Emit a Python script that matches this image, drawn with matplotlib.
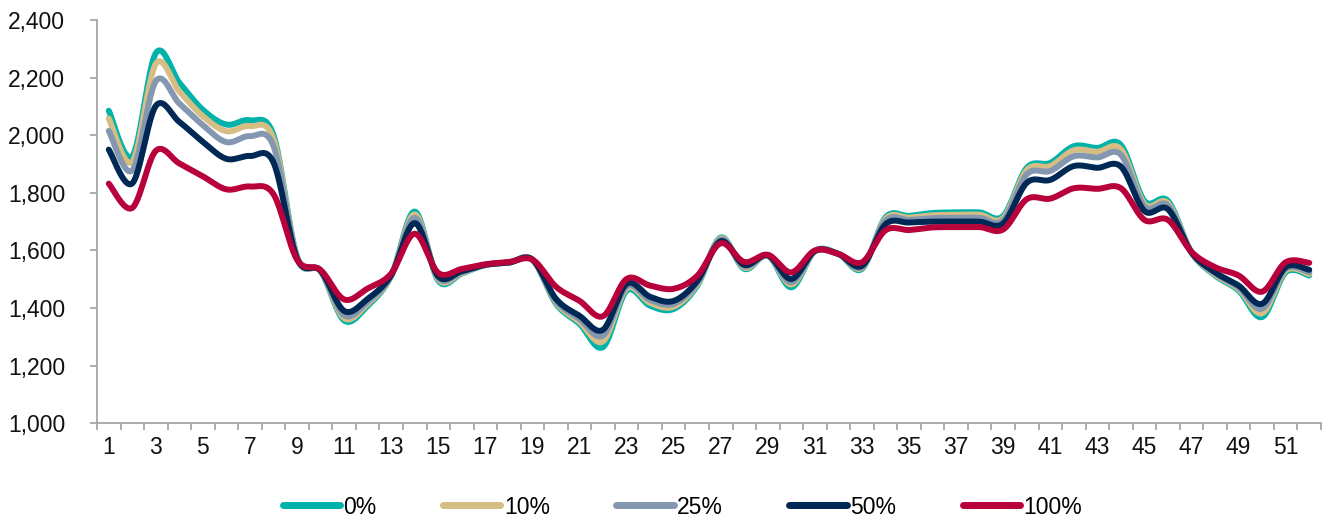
import numpy as np
import matplotlib
matplotlib.use("Agg")
import matplotlib.pyplot as plt
from matplotlib.ticker import FuncFormatter, FixedLocator

plt.rcParams['font.family'] = ['Liberation Sans Narrow', 'Liberation Sans', 'DejaVu Sans']

weeks = list(range(1, 53))
series_names = ["0%", "10%", "25%", "50%", "100%"]
colors = ["#00B2A9", "#D5BD83", "#8497B0", "#002855", "#B8003B"]

s0 = [2085, 1927, 2285, 2182, 2088, 2037, 2052, 2000, 1578, 1528, 1357, 1408, 1512, 1735,
      1495, 1520, 1550, 1558, 1568, 1415, 1345, 1265, 1460, 1408, 1397, 1478, 1645, 1536,
      1582, 1472, 1598, 1588, 1536, 1715, 1720, 1730, 1732, 1732, 1720, 1887, 1904, 1962,
      1956, 1966, 1772, 1772, 1593, 1513, 1461, 1369, 1524, 1513]
s10 = [2058, 1908, 2248, 2152, 2066, 2014, 2032, 1987, 1576, 1528, 1365, 1415, 1512, 1725,
       1500, 1522, 1550, 1558, 1568, 1420, 1352, 1285, 1468, 1418, 1405, 1483, 1642, 1540,
       1582, 1482, 1598, 1588, 1540, 1710, 1714, 1722, 1724, 1724, 1713, 1879, 1893, 1948,
       1943, 1951, 1762, 1764, 1593, 1516, 1466, 1382, 1530, 1518]
s25 = [2015, 1878, 2188, 2110, 2035, 1976, 1997, 1962, 1574, 1529, 1375, 1422, 1513, 1713,
       1505, 1525, 1550, 1558, 1568, 1425, 1362, 1305, 1475, 1428, 1415, 1488, 1638, 1545,
       1582, 1490, 1598, 1588, 1543, 1703, 1706, 1712, 1713, 1713, 1705, 1864, 1876, 1927,
       1923, 1932, 1753, 1756, 1593, 1520, 1472, 1398, 1536, 1524]
s50 = [1950, 1833, 2102, 2046, 1977, 1918, 1928, 1905, 1572, 1530, 1390, 1432, 1515, 1695,
       1510, 1528, 1550, 1558, 1568, 1432, 1373, 1325, 1484, 1439, 1425, 1494, 1632, 1550,
       1583, 1501, 1598, 1588, 1547, 1691, 1697, 1700, 1700, 1700, 1694, 1835, 1845, 1893,
       1887, 1891, 1737, 1743, 1593, 1524, 1478, 1415, 1542, 1533]
s100 = [1832, 1748, 1946, 1902, 1857, 1812, 1822, 1795, 1568, 1532, 1430, 1468, 1520, 1658,
        1522, 1536, 1552, 1560, 1568, 1474, 1425, 1372, 1501, 1478, 1467, 1512, 1625, 1560,
        1585, 1524, 1600, 1588, 1559, 1670, 1671, 1680, 1681, 1681, 1673, 1778, 1780, 1816,
        1814, 1816, 1706, 1706, 1595, 1542, 1513, 1457, 1559, 1557]
all_series = [s0, s10, s25, s50, s100]

y_ticks = [1000, 1200, 1400, 1600, 1800, 2000, 2200, 2400]
x_labels = list(range(1, 53, 2))


def smooth(x, y, n=24):
    """Excel-style smoothed line (Catmull-Rom Bezier through the points)."""
    x = np.asarray(x, float)
    y = np.asarray(y, float)
    px = np.concatenate([[x[0]], x, [x[-1]]])
    py = np.concatenate([[y[0]], y, [y[-1]]])
    t = np.linspace(0, 1, n, endpoint=False)
    xs, ys = [], []
    for i in range(1, len(px) - 2):
        p0x, p1x, p2x, p3x = px[i - 1], px[i], px[i + 1], px[i + 2]
        p0y, p1y, p2y, p3y = py[i - 1], py[i], py[i + 1], py[i + 2]
        b1x, b1y = p1x + (p2x - p0x) / 6, p1y + (p2y - p0y) / 6
        b2x, b2y = p2x - (p3x - p1x) / 6, p2y - (p3y - p1y) / 6
        a = (1 - t) ** 3
        b = 3 * (1 - t) ** 2 * t
        c = 3 * (1 - t) * t ** 2
        d = t ** 3
        xs.append(a * p1x + b * b1x + c * b2x + d * p2x)
        ys.append(a * p1y + b * b1y + c * b2y + d * p2y)
    xs.append([x[-1]])
    ys.append([y[-1]])
    return np.concatenate(xs), np.concatenate(ys)


fig = plt.figure(figsize=(13.25, 5.19), dpi=100)
ax = fig.add_axes([97 / 1325, 1 - 423.3 / 519, (1321 - 97) / 1325, (423.3 - 20) / 519])

for name, vals, col in zip(series_names, all_series, colors):
    sx, sy = smooth(weeks, vals)
    ax.plot(sx, sy, color=col, lw=4.3, solid_capstyle='round', label=name)

ax.set_xlim(0.5, 52.5)
ax.set_ylim(1000, 2400)

spine_col = "#A6A6A6"
for s in ["top", "right"]:
    ax.spines[s].set_visible(False)
for s in ["left", "bottom"]:
    ax.spines[s].set_color(spine_col)
    ax.spines[s].set_linewidth(1.3)

fs = 16.5
ax.yaxis.set_major_locator(FixedLocator(y_ticks))
ax.yaxis.set_major_formatter(FuncFormatter(lambda v, p: f"{int(v):,}"))
ax.tick_params(axis='y', direction='out', length=5, width=1.3, color=spine_col,
               pad=18, labelsize=fs, labelcolor="#111111")

ax.xaxis.set_major_locator(FixedLocator(x_labels))
ax.xaxis.set_minor_locator(FixedLocator(np.arange(0.5, 53, 1.0)))
ax.tick_params(axis='x', which='major', length=0, pad=9, labelsize=fs, labelcolor="#111111")
ax.tick_params(axis='x', which='minor', direction='out', length=5, width=1.3, color=spine_col)

leg = fig.legend(loc='center', bbox_to_anchor=(0.515, 1 - 507 / 519), ncol=5, frameon=False,
                 fontsize=fs, handlelength=2.5, handletextpad=0.15, columnspacing=2.9)
for h in leg.get_lines():
    h.set_linewidth(5)
    h.set_solid_capstyle('round')

fig.savefig("out.png", dpi=100)
